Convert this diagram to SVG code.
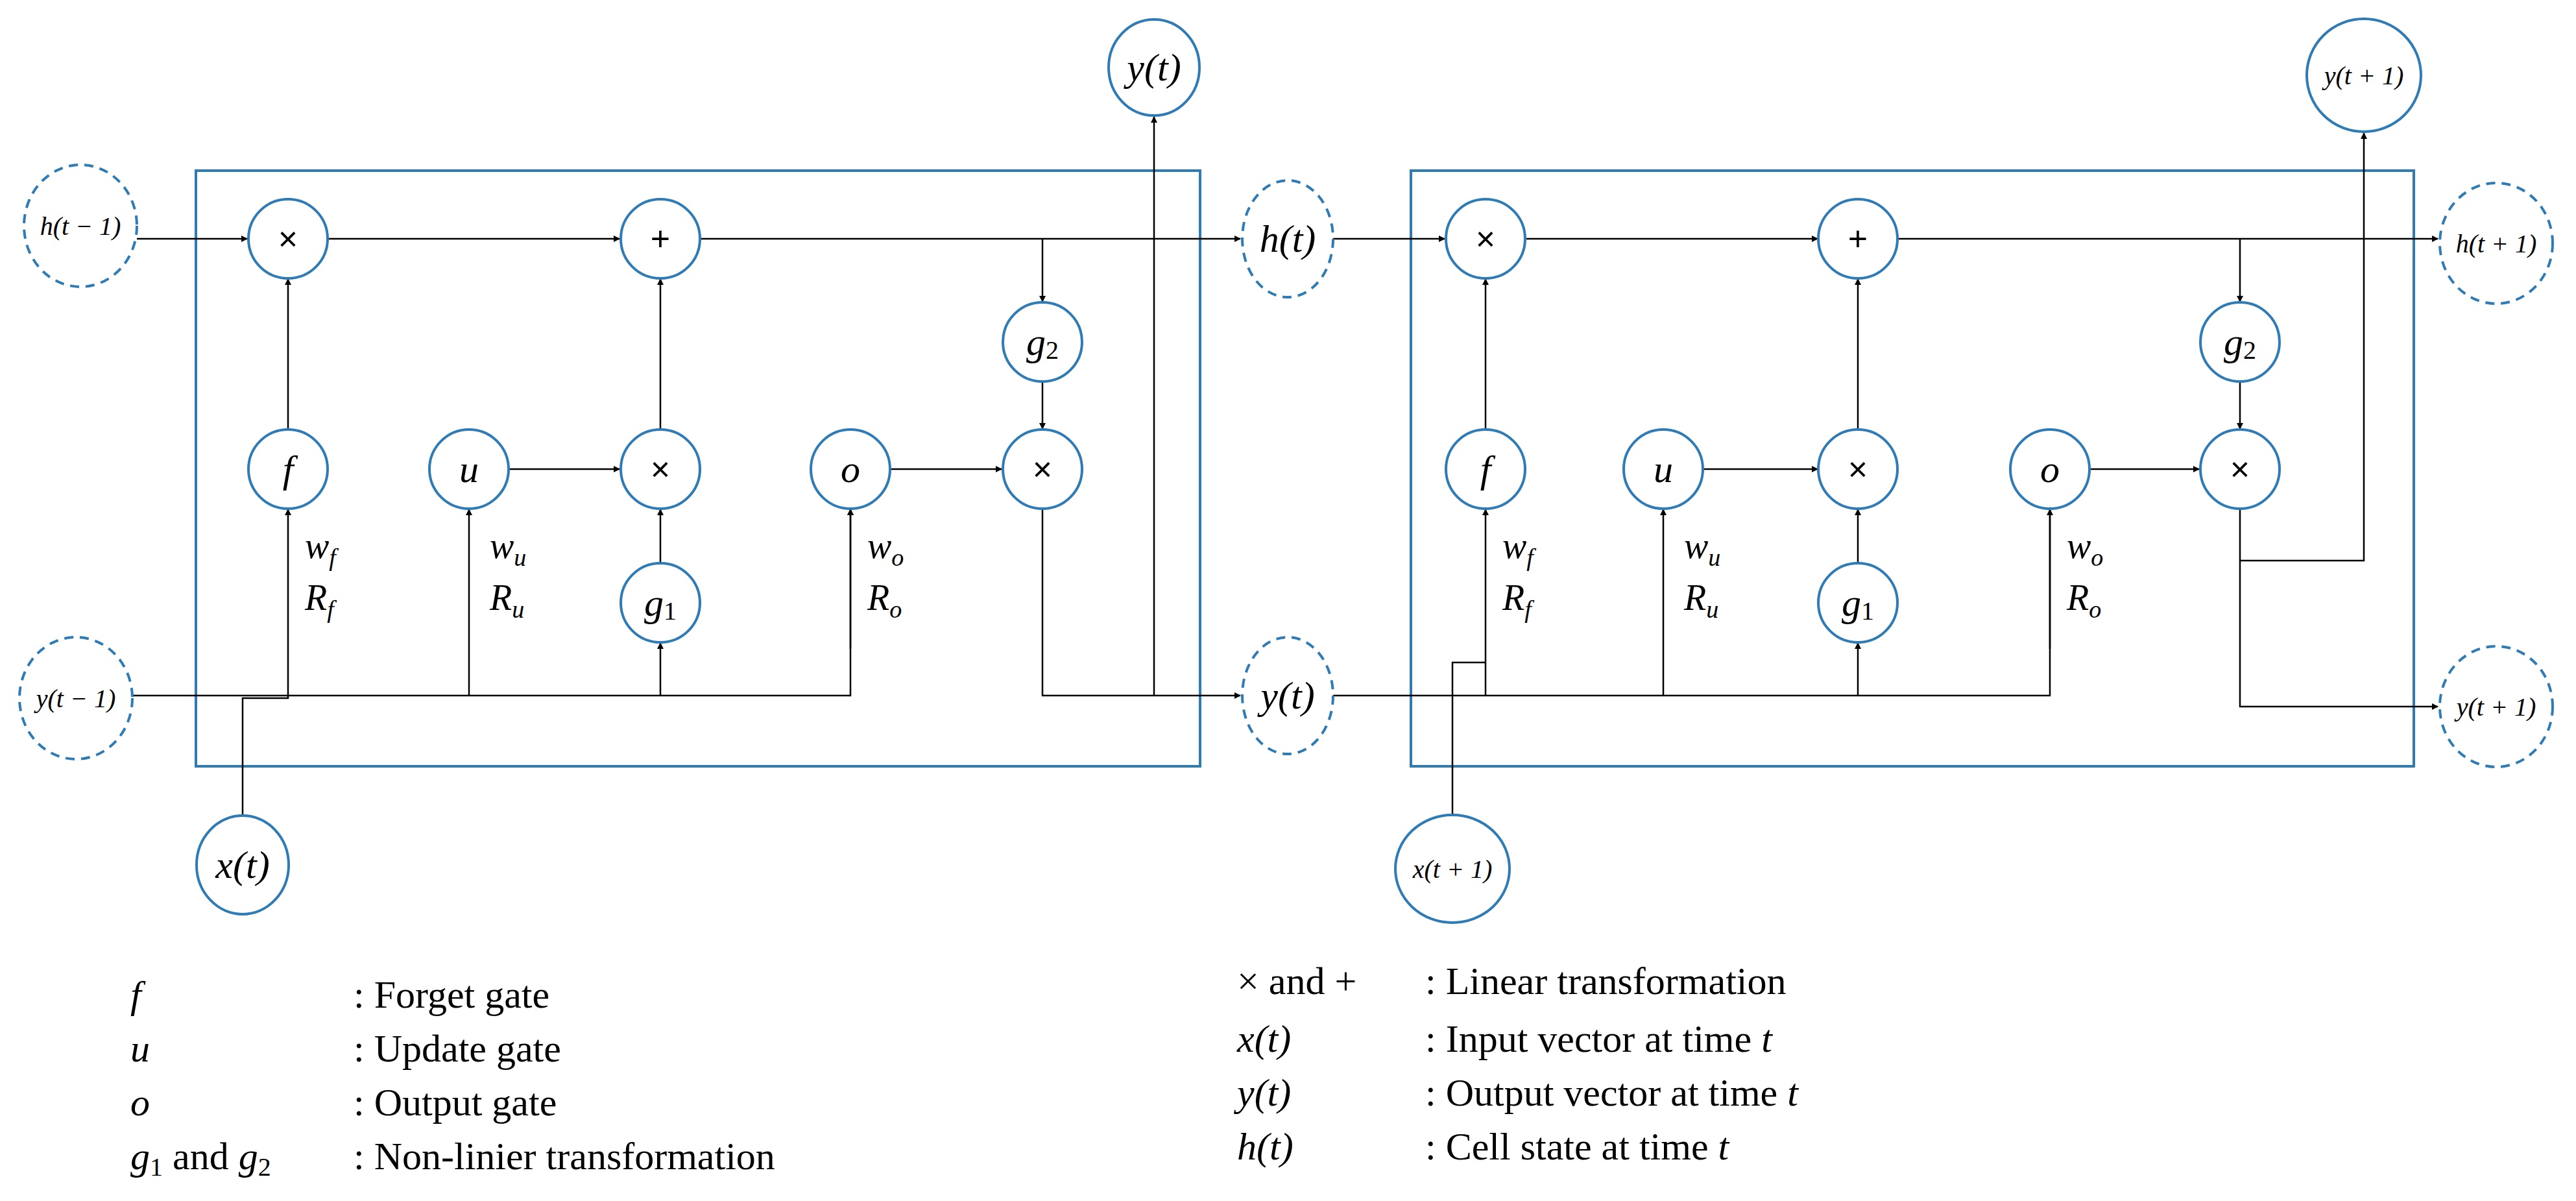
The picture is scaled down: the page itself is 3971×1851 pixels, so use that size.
<svg xmlns="http://www.w3.org/2000/svg" width="3971" height="1851" viewBox="0 0 3971 1851">
<style>
.n{fill:#fff;stroke:#2e7bb6;stroke-width:4}
.d{fill:#fff;stroke:#2e7bb6;stroke-width:4;stroke-dasharray:14 10}
.b{fill:none;stroke:#2e7bb6;stroke-width:4}
.c{fill:none;stroke:#000;stroke-width:2.5}
.ca{fill:none;stroke:#000;stroke-width:2.5;marker-end:url(#a)}
.t{font-family:"Liberation Serif",serif;font-style:italic;font-size:60px;text-anchor:middle;dominant-baseline:central}
.s{font-family:"Liberation Serif",serif;font-style:italic;font-size:40px;text-anchor:middle;dominant-baseline:central}
.o{font-family:"Liberation Sans",sans-serif;font-size:52px;text-anchor:middle;dominant-baseline:central}
.w{font-family:"Liberation Serif",serif;font-style:italic;font-size:56px}
.l{font-family:"Liberation Serif",serif;font-size:60px}
.li{font-family:"Liberation Serif",serif;font-style:italic;font-size:60px}
</style>
<defs><marker id="a" markerWidth="10" markerHeight="10" refX="9" refY="5" orient="auto" markerUnits="userSpaceOnUse" viewBox="0 0 10 10"><path d="M0,0L10,5L0,10z" fill="#000"/></marker></defs>
<rect class="b" x="302" y="263" width="1548" height="918"/>
<rect class="b" x="2175" y="263" width="1546" height="918"/>
<g id="connectors">
<path class="ca" d="M211,368H381"/>
<path class="ca" d="M505,368H955"/>
<path class="ca" d="M1079,368H1912"/>
<path class="ca" d="M1607,368V465"/>
<path class="ca" d="M1607,587V661"/>
<path class="ca" d="M444,663V430"/>
<path class="ca" d="M1018,663V430"/>
<path class="ca" d="M784,723H955"/>
<path class="ca" d="M1372,723H1544"/>
<path class="ca" d="M1018,869V785"/>
<path class="c" d="M204,1072H1311V785"/>
<path class="ca" d="M1311,1072V785" style="stroke:none"/>
<path class="ca" d="M1311,1000V785"/>
<path class="ca" d="M723,1072V785"/>
<path class="ca" d="M444,1072V785"/>
<path class="ca" d="M1018,1072V991"/>
<path class="c" d="M374,1257V1076H444V1072"/>
<path class="ca" d="M1607,785V1072H1912"/>
<path class="ca" d="M1779,1072V180"/>
<path class="ca" d="M2055,368H2227"/>
<path class="ca" d="M2353,368H2802"/>
<path class="ca" d="M2926,368H3758"/>
<path class="ca" d="M3453,368V465"/>
<path class="ca" d="M3453,587V661"/>
<path class="ca" d="M2290,663V430"/>
<path class="ca" d="M2864,663V430"/>
<path class="ca" d="M2625,723H2802"/>
<path class="ca" d="M3221,723H3390"/>
<path class="ca" d="M2864,869V785"/>
<path class="c" d="M2055,1072H3160V785"/>
<path class="ca" d="M3160,1000V785"/>
<path class="ca" d="M2564,1072V785"/>
<path class="ca" d="M2290,1072V785"/>
<path class="ca" d="M2864,1072V991"/>
<path class="c" d="M2239,1256V1021H2290"/>
<path class="ca" d="M3453,785V1089H3758"/>
<path class="ca" d="M3453,864H3644V205"/>
</g>
<g id="h_tm1"><ellipse class="d" cx="124" cy="348" rx="87" ry="94"/><text class="s" x="124" y="348">h(t − 1)</text></g>
<g id="y_tm1"><ellipse class="d" cx="117" cy="1076" rx="87" ry="94"/><text class="s" x="117" y="1076">y(t − 1)</text></g>
<g id="x_t"><ellipse class="n" cx="374" cy="1333" rx="71" ry="76"/><text class="t" x="374" y="1333">x(t)</text></g>
<g id="y_t_top"><ellipse class="n" cx="1779" cy="104" rx="70" ry="74"/><text class="t" x="1779" y="104">y(t)</text></g>
<g id="h_t"><ellipse class="d" cx="1985" cy="368" rx="70" ry="90"/><text class="t" x="1985" y="368">h(t)</text></g>
<g id="y_t"><ellipse class="d" cx="1985" cy="1072" rx="70" ry="90"/><text class="t" x="1985" y="1072">y(t)</text></g>
<g id="c1_mul1"><ellipse class="n" cx="444" cy="368" rx="61" ry="61"/><text class="o" x="444" y="368">×</text></g>
<g id="c1_add"><ellipse class="n" cx="1018" cy="368" rx="61" ry="61"/><text class="o" x="1018" y="368">+</text></g>
<g id="c1_g2"><ellipse class="n" cx="1607" cy="527" rx="61" ry="61"/><text class="t" x="1607" y="527">g<tspan font-size="40" font-style="normal" dy="12">2</tspan></text></g>
<g id="c1_f"><ellipse class="n" cx="444" cy="723" rx="61" ry="61"/><text class="t" x="444" y="723">f</text></g>
<g id="c1_u"><ellipse class="n" cx="723" cy="723" rx="61" ry="61"/><text class="t" x="723" y="723">u</text></g>
<g id="c1_mul2"><ellipse class="n" cx="1018" cy="723" rx="61" ry="61"/><text class="o" x="1018" y="723">×</text></g>
<g id="c1_o"><ellipse class="n" cx="1311" cy="723" rx="61" ry="61"/><text class="t" x="1311" y="723">o</text></g>
<g id="c1_mul3"><ellipse class="n" cx="1607" cy="723" rx="61" ry="61"/><text class="o" x="1607" y="723">×</text></g>
<g id="c1_g1"><ellipse class="n" cx="1018" cy="929" rx="61" ry="61"/><text class="t" x="1018" y="929">g<tspan font-size="40" font-style="normal" dy="12">1</tspan></text></g>
<g id="c1_wlabels">
<text class="w" x="470" y="860">w<tspan font-size="38" dy="12">f</tspan></text>
<text class="w" x="470" y="940">R<tspan font-size="38" dy="12">f</tspan></text>
<text class="w" x="755" y="860">w<tspan font-size="38" dy="12">u</tspan></text>
<text class="w" x="755" y="940">R<tspan font-size="38" dy="12">u</tspan></text>
<text class="w" x="1337" y="860">w<tspan font-size="38" dy="12">o</tspan></text>
<text class="w" x="1337" y="940">R<tspan font-size="38" dy="12">o</tspan></text>
</g>
<g id="x_t1"><ellipse class="n" cx="2239" cy="1339" rx="88" ry="83"/><text class="s" x="2239" y="1339">x(t + 1)</text></g>
<g id="y_t1_top"><ellipse class="n" cx="3644" cy="116" rx="88" ry="87"/><text class="s" x="3644" y="116">y(t + 1)</text></g>
<g id="h_t1"><ellipse class="d" cx="3848" cy="375" rx="87" ry="93"/><text class="s" x="3848" y="375">h(t + 1)</text></g>
<g id="y_t1"><ellipse class="d" cx="3848" cy="1089" rx="87" ry="93"/><text class="s" x="3848" y="1089">y(t + 1)</text></g>
<g id="c2_mul1"><ellipse class="n" cx="2290" cy="368" rx="61" ry="61"/><text class="o" x="2290" y="368">×</text></g>
<g id="c2_add"><ellipse class="n" cx="2864" cy="368" rx="61" ry="61"/><text class="o" x="2864" y="368">+</text></g>
<g id="c2_g2"><ellipse class="n" cx="3453" cy="527" rx="61" ry="61"/><text class="t" x="3453" y="527">g<tspan font-size="40" font-style="normal" dy="12">2</tspan></text></g>
<g id="c2_f"><ellipse class="n" cx="2290" cy="723" rx="61" ry="61"/><text class="t" x="2290" y="723">f</text></g>
<g id="c2_u"><ellipse class="n" cx="2564" cy="723" rx="61" ry="61"/><text class="t" x="2564" y="723">u</text></g>
<g id="c2_mul2"><ellipse class="n" cx="2864" cy="723" rx="61" ry="61"/><text class="o" x="2864" y="723">×</text></g>
<g id="c2_o"><ellipse class="n" cx="3160" cy="723" rx="61" ry="61"/><text class="t" x="3160" y="723">o</text></g>
<g id="c2_mul3"><ellipse class="n" cx="3453" cy="723" rx="61" ry="61"/><text class="o" x="3453" y="723">×</text></g>
<g id="c2_g1"><ellipse class="n" cx="2864" cy="929" rx="61" ry="61"/><text class="t" x="2864" y="929">g<tspan font-size="40" font-style="normal" dy="12">1</tspan></text></g>
<g id="c2_wlabels">
<text class="w" x="2316" y="860">w<tspan font-size="38" dy="12">f</tspan></text>
<text class="w" x="2316" y="940">R<tspan font-size="38" dy="12">f</tspan></text>
<text class="w" x="2596" y="860">w<tspan font-size="38" dy="12">u</tspan></text>
<text class="w" x="2596" y="940">R<tspan font-size="38" dy="12">u</tspan></text>
<text class="w" x="3186" y="860">w<tspan font-size="38" dy="12">o</tspan></text>
<text class="w" x="3186" y="940">R<tspan font-size="38" dy="12">o</tspan></text>
</g>
<g id="legend">
<text class="li" x="201" y="1553">f</text><text class="l" x="545" y="1553">: Forget gate</text>
<text class="li" x="201" y="1636">u</text><text class="l" x="545" y="1636">: Update gate</text>
<text class="li" x="201" y="1719">o</text><text class="l" x="545" y="1719">: Output gate</text>
<text class="li" x="201" y="1802">g<tspan font-size="40" font-style="normal" dy="10">1</tspan><tspan font-style="normal" dy="-10"> and </tspan>g<tspan font-size="40" font-style="normal" dy="10">2</tspan></text><text class="l" x="545" y="1802">: Non-linier transformation</text>
<text class="l" x="1907" y="1532">× and +</text><text class="l" x="2197" y="1532">: Linear transformation</text>
<text class="li" x="1907" y="1621">x(t)</text><text class="l" x="2197" y="1621">: Input vector at time <tspan font-style="italic">t</tspan></text>
<text class="li" x="1907" y="1704">y(t)</text><text class="l" x="2197" y="1704">: Output vector at time <tspan font-style="italic">t</tspan></text>
<text class="li" x="1907" y="1787">h(t)</text><text class="l" x="2197" y="1787">: Cell state at time <tspan font-style="italic">t</tspan></text>
</g>
</svg>
